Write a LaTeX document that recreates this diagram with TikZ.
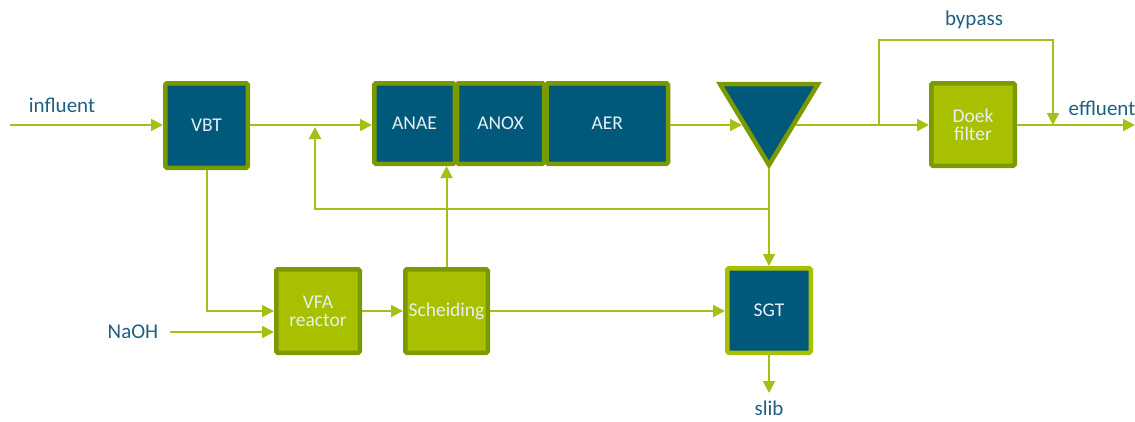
\documentclass[tikz,border=0pt]{standalone}
\usepackage{fontspec}
\setmainfont{Carlito}
\usetikzlibrary{arrows.meta}
\definecolor{dblue}{RGB}{0,88,122}
\definecolor{olive}{RGB}{122,154,0}
\definecolor{lgreen}{RGB}{168,192,0}
\definecolor{lnc}{RGB}{164,192,20}
\definecolor{tblue}{RGB}{31,95,127}
\definecolor{wtxt}{RGB}{230,240,245}
\begin{document}
\begin{tikzpicture}[x=1pt,y=-1pt,
  box/.style={draw=olive,line width=4.5pt,rounded corners=1.5pt,inner sep=0pt,
    text=wtxt,font=\fontsize{19.5}{21}\selectfont,align=center},
  bluebox/.style={box,fill=dblue},
  greenbox/.style={box,fill=lgreen},
  conn/.style={draw=lnc,line width=2pt},
  arr/.style={conn,-{Triangle[length=12pt,width=12pt]}},
  lbl/.style={text=tblue,font=\fontsize{21}{23}\selectfont,inner sep=0pt}]
\useasboundingbox (0,0) rectangle (1135,421);
% boxes
\node[bluebox,minimum width=82.5pt,minimum height=84.5pt] (vbt) at (206.5,125.5) {VBT};
\node[bluebox,minimum width=80.5pt,minimum height=80.5pt] (anae) at (414.5,123.5) {ANAE};
\node[bluebox,minimum width=87pt,minimum height=80.5pt] (anox) at (500.5,123.5) {ANOX};
\node[bluebox,minimum width=121.5pt,minimum height=80.5pt] (aer) at (607.25,123.5) {AER};
\node[greenbox,minimum width=83.5pt,minimum height=82.5pt] (doek) at (973,124.5) {Doek\\[-3pt]filter};
\node[greenbox,minimum width=83.5pt,minimum height=83.5pt] (vfa) at (318,311) {VFA\\[-3pt]reactor};
\node[greenbox,minimum width=82.5pt,minimum height=83.5pt] (sch) at (446.5,311) {Scheiding};
\node[bluebox,draw=lgreen,minimum width=83.5pt,minimum height=84.5pt] (sgt) at (769,310.5) {SGT};
% clarifier triangle
\draw[fill=dblue,draw=olive,line width=4.5pt,line join=miter] (720,84) -- (818,84) -- (769,165) -- cycle;
\coordinate (trileft) at (742,125);
\coordinate (triright) at (796,125);
\coordinate (apex) at (769,168);
% labels
\node[lbl] (linf) at (62,105) {influent};
\node[lbl] (lbyp) at (974,20) {bypass};
\node[lbl] (leff) at (1102,108) {effluent};
\node[lbl] (lnaoh) at (133,332) {NaOH};
\node[lbl] (lslib) at (769,408) {slib};
% coordinates
\coordinate (inf) at (10,125);
\coordinate (bpsplit) at (879,125);
\coordinate (bptop) at (879,40);
\coordinate (effjoin) at (1053,125);
\coordinate (effend) at (1135,125);
\coordinate (rec) at (769,209);
\coordinate (recend) at (315,127);
\coordinate (naoh) at (170,332);
\coordinate (slibend) at (769,393);
% connectors
\draw[arr] (inf) -- (inf -| vbt.west);
\draw[arr] (vbt.east |- inf) -- (anae.west |- inf);
\draw[arr] (aer.east |- inf) -- (trileft);
\draw[arr] (triright) -- (doek.west |- inf);
\draw[arr] (bpsplit) -- (bptop) -| (effjoin);
\draw[arr] (doek.east |- inf) -- (effend);
\draw[arr] (apex) -- (sgt.north);
\draw[arr] (rec) -| (recend);
\draw[arr] (sch.north) -- (sch.north |- anae.south);
\draw[arr] (vbt.south) |- (vfa.west);
\draw[arr] (naoh) -- (vfa.west |- naoh);
\draw[arr] (vfa.east) -- (sch.west);
\draw[arr] (sch.east) -- (sgt.west |- sch.east);
\draw[arr] (sgt.south) -- (slibend);
\end{tikzpicture}
\end{document}
